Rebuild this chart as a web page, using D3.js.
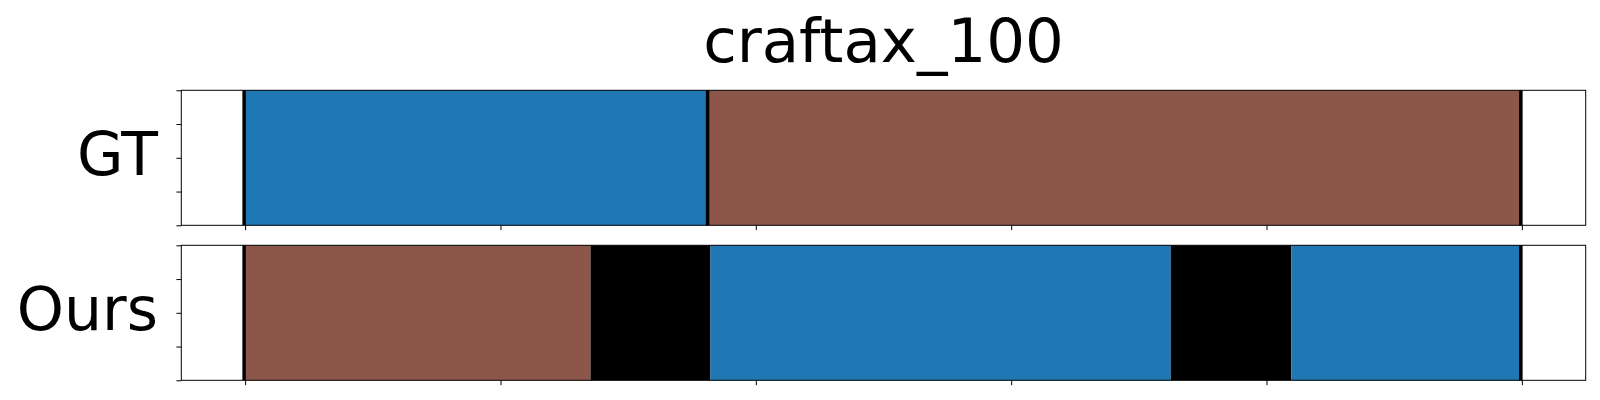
<!DOCTYPE html>
<html><head><meta charset="utf-8">
<script src="https://cdn.jsdelivr.net/npm/d3@7"></script>
<style>body{margin:0;background:#fff;} svg{display:block;font-family:"DejaVu Sans",sans-serif;}</style>
</head><body><svg id="c" width="1600" height="400"></svg>
<script>
const title = "craftax_100";
const rowLabels = ["GT", "Ours"];
const gtStart = [0, 36.3];
const gtEnd = [36.3, 100];
const gtColor = ["#1f77b4", "#8c564b"];
const oursStart = [0, 27.05, 36.45, 72.5, 81.95];
const oursEnd = [27.05, 36.45, 72.5, 81.95, 100];
const oursColor = ["#8c564b", "#000000", "#1f77b4", "#000000", "#1f77b4"];
const gtBoundaries = [0, 36.3, 100];
const oursBoundaries = [0, 100];
const xTicks = [0, 20, 40, 60, 80, 100];
const yTicks = [0, 0.25, 0.5, 0.75, 1];

const svg = d3.select("#c");
const x = d3.scaleLinear().domain([-5, 105]).range([181.3, 1585.7]);
const rows = [
  {label: rowLabels[0], top: 90.3, s: gtStart, e: gtEnd, c: gtColor, b: gtBoundaries},
  {label: rowLabels[1], top: 245.3, s: oursStart, e: oursEnd, c: oursColor, b: oursBoundaries}
];
const H = 135;

svg.append("text").attr("x", x(50)).attr("y", 61.5).attr("text-anchor", "middle")
  .attr("font-size", 61).attr("fill", "#000").text(title);

rows.forEach(r => {
  const y = d3.scaleLinear().domain([0, 1]).range([r.top + H, r.top]);
  const g = svg.append("g");
  g.selectAll("rect.seg").data(r.s.map((s, i) => ({s, e: r.e[i], c: r.c[i]})))
    .join("rect").attr("class", "seg")
    .attr("x", d => x(d.s)).attr("width", d => x(d.e) - x(d.s))
    .attr("y", y(1)).attr("height", y(0) - y(1)).attr("fill", d => d.c);
  g.selectAll("line.bd").data(r.b).join("line").attr("class", "bd")
    .attr("x1", d => x(d) - 1).attr("x2", d => x(d) - 1)
    .attr("y1", y(1)).attr("y2", y(0)).attr("stroke", "#000").attr("stroke-width", 3.5);
  g.append("rect").attr("x", x.range()[0]).attr("y", r.top)
    .attr("width", x.range()[1] - x.range()[0]).attr("height", H)
    .attr("fill", "none").attr("stroke", "#000").attr("stroke-width", 1);
  const xa = g.append("g").attr("transform", `translate(0,${r.top + H})`)
    .call(d3.axisBottom(x).tickValues(xTicks).tickSize(4.9).tickFormat(""));
  xa.select(".domain").remove();
  xa.selectAll("line").attr("stroke-width", 1);
  const ya = g.append("g").attr("transform", `translate(${x.range()[0]},0)`)
    .call(d3.axisLeft(y).tickValues(yTicks).tickSize(4.9).tickFormat(""));
  ya.select(".domain").remove();
  ya.selectAll("line").attr("stroke-width", 1);
  svg.append("text").attr("x", 158).attr("y", r.top + H / 2 + 17.2)
    .attr("text-anchor", "end").attr("font-size", 60).attr("fill", "#000").text(r.label);
});
</script></body></html>
